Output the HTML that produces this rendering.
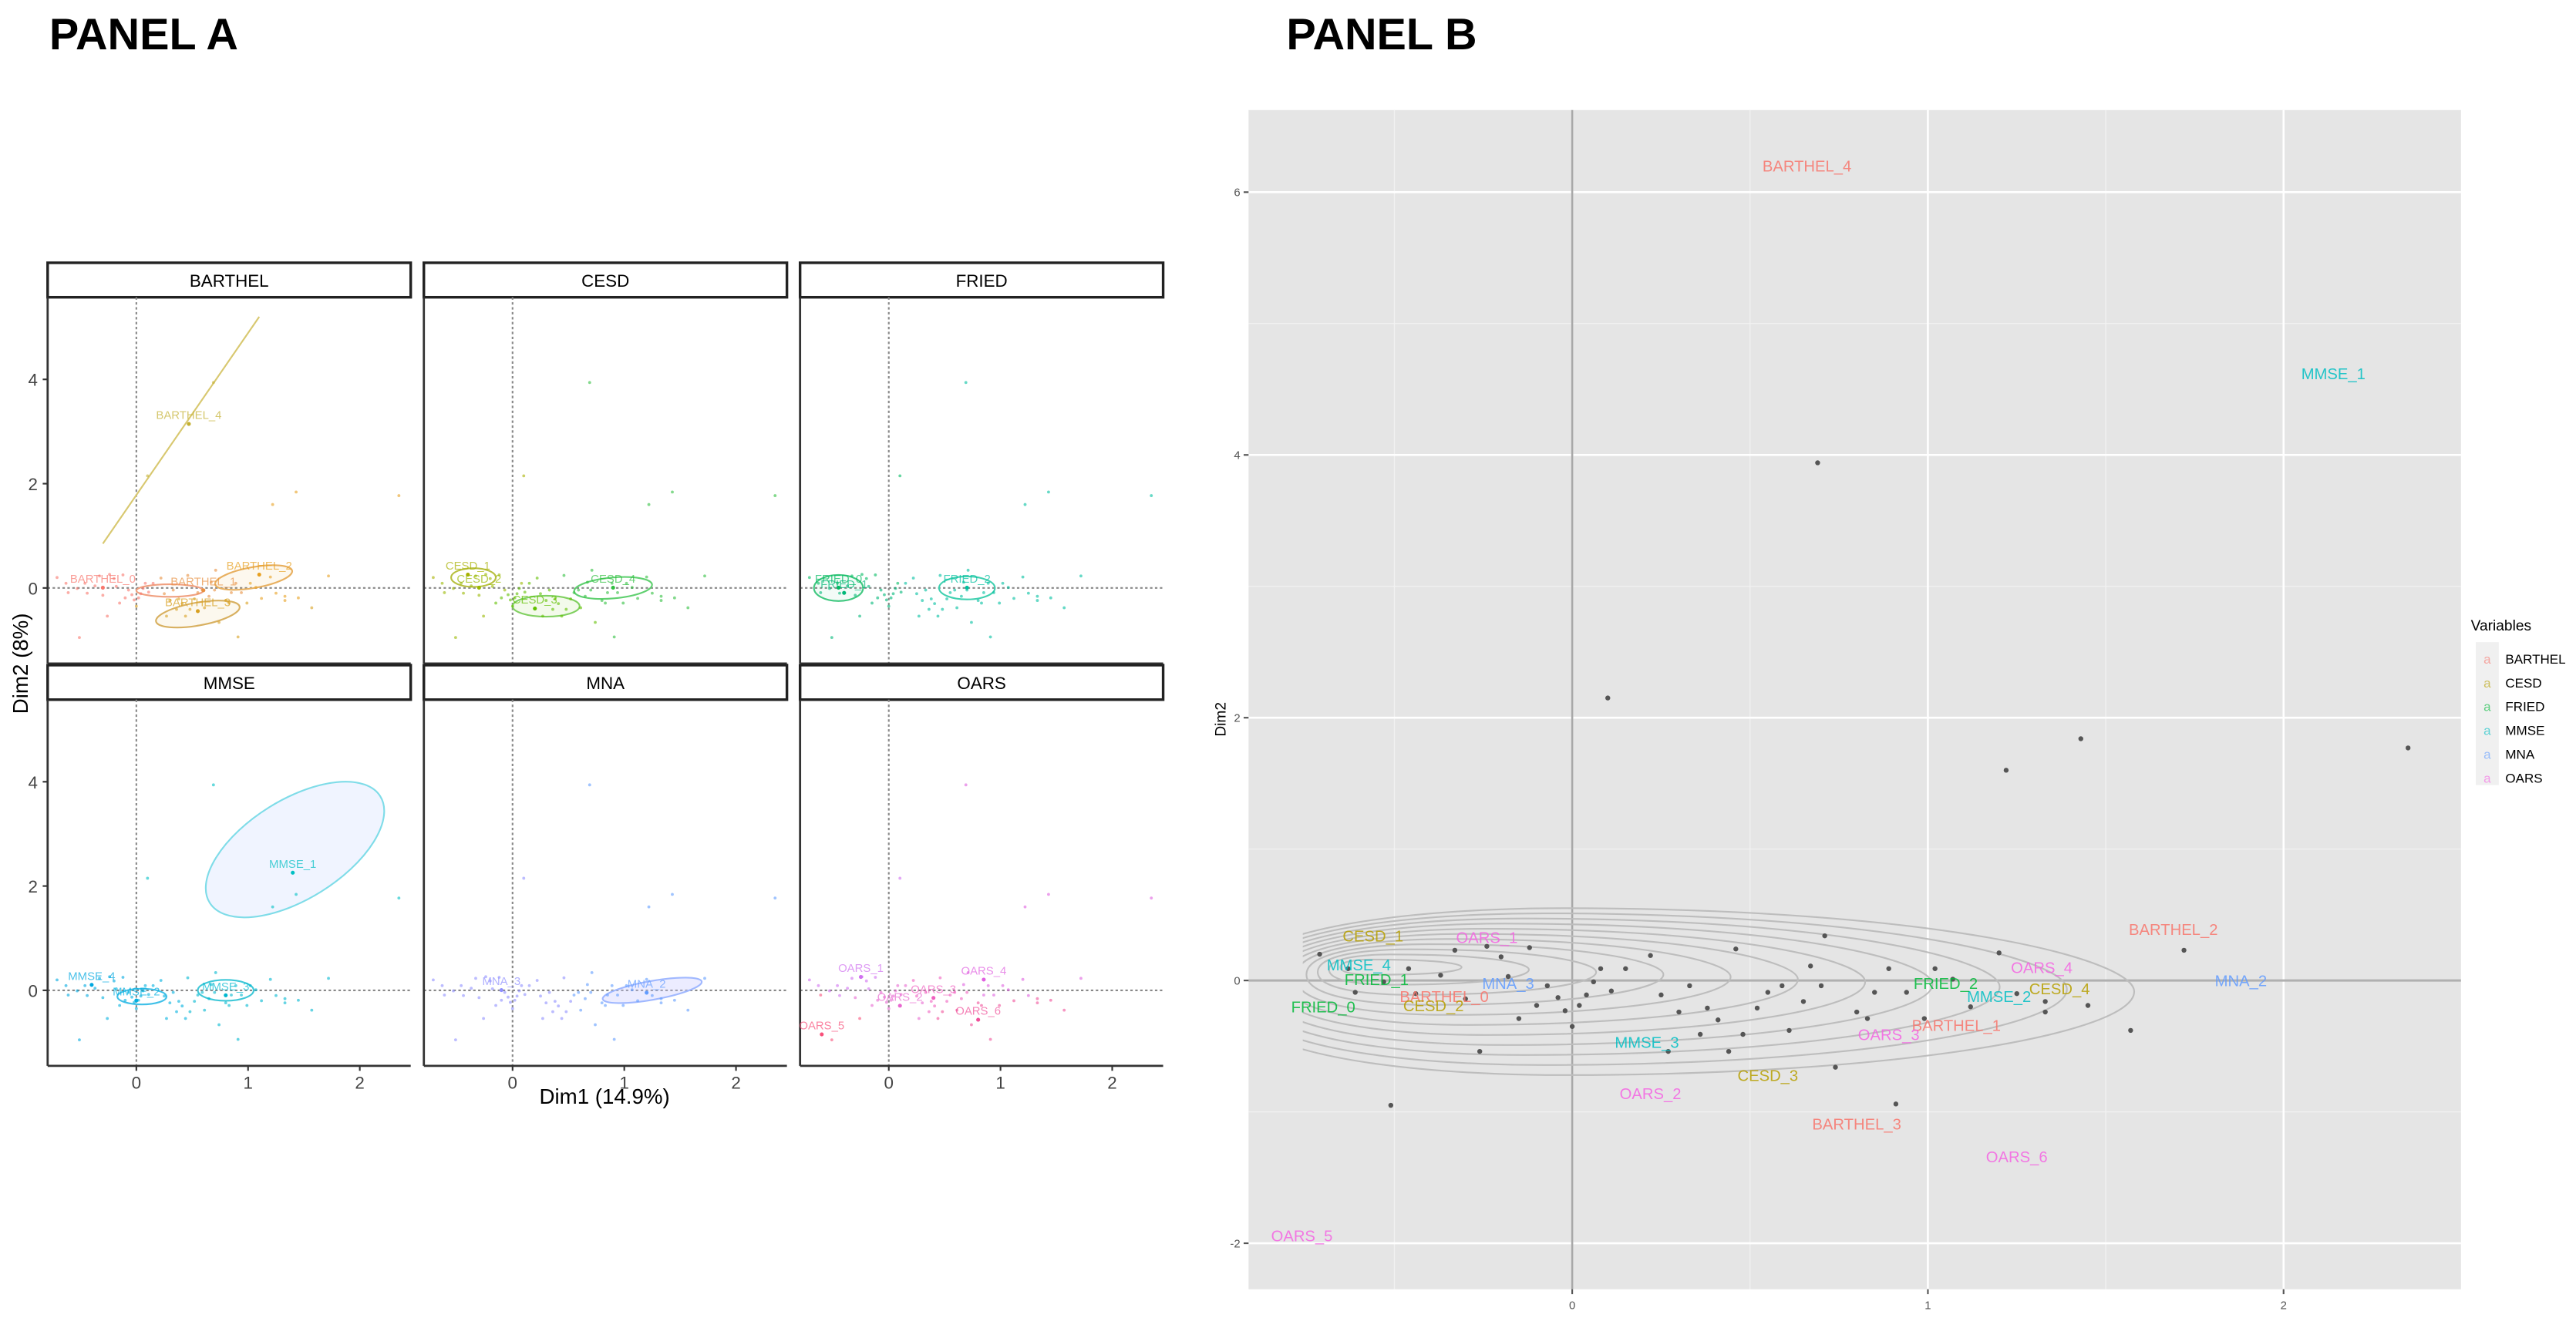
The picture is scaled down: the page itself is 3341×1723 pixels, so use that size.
<!DOCTYPE html>
<html><head><meta charset="utf-8">
<style>
html,body{margin:0;padding:0;background:#fff;}
svg{display:block;font-family:"Liberation Sans",sans-serif;}
</style></head>
<body>
<svg id="fig" width="3341" height="1723" viewBox="0 0 1568 808.6" preserveAspectRatio="none" xmlns="http://www.w3.org/2000/svg">
<defs><clipPath id="cl"><rect x="793" y="60" width="710" height="730"/></clipPath></defs>
<text x="30" y="30" font-size="27" font-weight="bold">PANEL A</text>
<text x="783" y="30" font-size="27" font-weight="bold">PANEL B</text>
<g id="pa"></g>
<g id="pb"></g>
</svg>
<script>
// Individuals (shared data)
const indX = [-0.71,-0.63,-0.61,-0.53,-0.46,-0.44,-0.37,-0.33,-0.30,-0.26,-0.24,-0.20,-0.18,-0.15,-0.12,-0.10,-0.07,-0.04,-0.02,0.00,0.02,0.04,0.06,0.08,0.11,0.15,0.22,0.25,0.27,0.30,0.33,0.36,0.38,0.41,0.44,0.46,0.48,0.52,0.55,0.59,0.61,0.65,0.67,0.71,0.70,0.74,0.80,0.83,0.85,0.89,0.94,0.99,1.02,1.07,1.12,1.20,1.25,1.33,1.33,1.45,1.57,1.72,0.91,-0.51,0.69,0.10,1.22,1.43,2.35];
const indY = [0.20,0.09,-0.09,-0.01,0.09,-0.10,0.04,0.23,-0.14,-0.54,0.26,0.18,0.03,-0.29,0.25,-0.19,-0.04,-0.13,-0.23,-0.35,-0.19,-0.11,-0.01,0.09,-0.08,0.09,0.19,-0.11,-0.54,-0.24,-0.04,-0.41,-0.21,-0.30,-0.54,0.24,-0.41,-0.21,-0.09,-0.04,-0.38,-0.16,0.11,0.34,-0.04,-0.66,-0.24,-0.29,-0.09,0.09,-0.09,-0.29,0.09,0.01,-0.20,0.21,-0.10,-0.16,-0.24,-0.19,-0.38,0.23,-0.94,-0.95,3.94,2.15,1.60,1.84,1.77];
// Category coordinates (panel B)
const catNames = ["BARTHEL_4","MMSE_1","BARTHEL_2","OARS_4","MNA_2","CESD_4","MMSE_2","FRIED_2","BARTHEL_1","OARS_3","CESD_3","BARTHEL_3","OARS_6","MMSE_3","OARS_2","OARS_1","MNA_3","BARTHEL_0","CESD_2","CESD_1","MMSE_4","FRIED_1","FRIED_0","OARS_5"];
const catX = [0.66,2.14,1.69,1.32,1.88,1.37,1.20,1.05,1.08,0.89,0.55,0.80,1.25,0.21,0.22,-0.24,-0.18,-0.36,-0.39,-0.56,-0.60,-0.55,-0.70,-0.76];
const catY = [6.20,4.62,0.39,0.10,0.00,-0.06,-0.12,-0.02,-0.34,-0.41,-0.72,-1.09,-1.34,-0.47,-0.86,0.33,-0.02,-0.12,-0.19,0.34,0.12,0.01,-0.20,-1.94];
const varNames = ["BARTHEL","CESD","FRIED","MMSE","MNA","OARS"];
const varColors = ["#F8766D","#B79F00","#00BA38","#00BFC4","#619CFF","#F564E3"];
const xTicks = [0,1,2];
const yTicksA = [0,2,4];
const yTicksB = [-2,0,2,4,6];
// Panel A facet annotations
const facetLabels = [
 [["BARTHEL_4",0.47,3.24,"#C4B030"],["BARTHEL_2",1.1,0.35,"#E8A020"],["BARTHEL_1",0.6,0.05,"#E89040"],["BARTHEL_3",0.55,-0.35,"#D8A020"],["BARTHEL_0",-0.3,0.1,"#F8766D"]],
 [["CESD_1",-0.4,0.35,"#A8B000"],["CESD_2",-0.3,0.1,"#9AB800"],["CESD_3",0.2,-0.3,"#60C000"],["CESD_4",0.9,0.1,"#30C040"]],
 [["FRIED_0",-0.45,0.1,"#00BA60"],["FRIED_1",-0.4,0.0,"#00B878"],["FRIED_2",0.7,0.1,"#00C0A0"]],
 [["MMSE_1",1.4,2.35,"#00BFC4"],["MMSE_4",-0.4,0.2,"#00A8E0"],["MMSE_2",0.0,-0.1,"#00B0E0"],["MMSE_3",0.8,0.0,"#00B8D0"]],
 [["MNA_3",-0.1,0.1,"#9090FF"],["MNA_2",1.2,0.05,"#619CFF"]],
 [["OARS_1",-0.25,0.35,"#D070F0"],["OARS_4",0.85,0.3,"#E060E0"],["OARS_2",0.1,-0.2,"#E868D0"],["OARS_3",0.4,-0.05,"#F060C0"],["OARS_6",0.8,-0.47,"#F0509A"],["OARS_5",-0.6,-0.75,"#F8507A"]]
];
// ellipses: cx, cy, rx, ry, angle(deg), color, fill
const facetEllipses = [
 [[1.05,0.2,0.35,0.2,-10,"#E8B060","rgba(232,160,32,0.08)"],[0.55,-0.5,0.38,0.22,-10,"#D8B060","rgba(216,160,32,0.08)"],[0.3,-0.05,0.3,0.12,0,"#F0A080","none"]],
 [[-0.35,0.2,0.2,0.18,0,"#B8C040","none"],[0.3,-0.35,0.3,0.2,0,"#80D060","rgba(96,192,0,0.08)"],[0.9,0.0,0.35,0.2,-5,"#60D070","none"]],
 [[-0.45,0.0,0.22,0.25,0,"#40C880","rgba(0,186,96,0.05)"],[0.7,0.0,0.25,0.22,0,"#40D0B0","none"]],
 [[1.42,2.7,0.9,0.95,-32,"#7FDCE8","rgba(180,200,255,0.2)"],[0.05,-0.12,0.22,0.15,0,"#40C0E8","none"],[0.8,0.0,0.25,0.2,0,"#40C8D8","none"]],
 [[1.25,0.0,0.45,0.18,-10,"#A0B8FF","rgba(200,200,255,0.35)"]],
 []
];
const NS="http://www.w3.org/2000/svg";
function mk(parent,tag,attrs){const e=document.createElementNS(NS,tag);for(const k in attrs)e.setAttribute(k,attrs[k]);parent.appendChild(e);return e;}

// ---------- Panel A ----------
const pa=document.getElementById('pa');
const FW=221,FH=223;
function ax(col,v){return 29+229*col+54+v*68;}
function ay(row,v){return 181+245*row+177-v*31.75;}
for(let f=0;f<6;f++){
  const col=f%3,row=Math.floor(f/3);
  const x0=29+229*col, top=181+245*row;
  const g=mk(pa,'g',{});
  
  
  const strip=mk(g,'rect',{x:x0,y:top-21,width:FW,height:21,fill:'#fff',stroke:'#222','stroke-width':1.6});
  
  
  const st=mk(g,'text',{x:x0+FW/2,y:top-6.5,'text-anchor':'middle','font-size':10.5});
  st.textContent=varNames[f];
  
  
  mk(g,'line',{x1:ax(col,0),x2:ax(col,0),y1:top,y2:top+FH,stroke:'#888','stroke-width':1,'stroke-dasharray':'1.5,1.5'});
  mk(g,'line',{x1:x0,x2:x0+FW,y1:ay(row,0),y2:ay(row,0),stroke:'#888','stroke-width':1,'stroke-dasharray':'1.5,1.5'});
  mk(g,'line',{x1:x0,x2:x0,y1:top,y2:top+FH,stroke:'#333','stroke-width':1.3});
  mk(g,'line',{x1:x0,x2:x0+FW,y1:top+FH,y2:top+FH,stroke:'#333','stroke-width':1.3});
  if(f===0){mk(g,'line',{x1:ax(0,-0.3),y1:ay(0,0.85),x2:ax(0,1.1),y2:ay(0,5.2),stroke:'#D8C870','stroke-width':1});}
  facetEllipses[f].forEach(e=>{
    const el=mk(g,'ellipse',{cx:ax(col,e[0]),cy:ay(row,e[1]),rx:e[2]*68,ry:e[3]*31.75,fill:e[6],stroke:e[5],'stroke-width':1,transform:`rotate(${e[4]} ${ax(col,e[0])} ${ay(row,e[1])})`});
    
    
  });
  const labs=facetLabels[f];
  for(let i=0;i<indX.length;i++){
    let best=0,bd=1e9;
    labs.forEach((l,k)=>{const d=Math.abs(l[1]-indX[i])+Math.abs(l[2]-indY[i]);if(d<bd){bd=d;best=k;}});
    const c=mk(g,'circle',{cx:ax(col,indX[i]),cy:ay(row,indY[i]),r:0.9,fill:labs[best][3],opacity:0.6});
    
    
  }
  labs.forEach(l=>{
    mk(g,'circle',{cx:ax(col,l[1]),cy:ay(row,l[2])+3,r:1.2,fill:l[3]});
    const t=mk(g,'text',{x:ax(col,l[1]),y:ay(row,l[2]),'text-anchor':'middle','font-size':7,fill:l[3],opacity:0.7});
    t.textContent=l[0];
    
    
  });
  if(col===0){yTicksA.forEach(v=>{
    mk(g,'line',{x1:x0-3,x2:x0,y1:ay(row,v),y2:ay(row,v),stroke:'#333'});
    const t=mk(g,'text',{x:x0-6,y:ay(row,v)+4,'text-anchor':'end','font-size':10.5,fill:'#444'});
    t.textContent=v;
    
    
  });}
  if(row===1){xTicks.forEach(v=>{
    mk(g,'line',{x1:ax(col,v),x2:ax(col,v),y1:top+FH,y2:top+FH+3,stroke:'#333'});
    const t=mk(g,'text',{x:ax(col,v),y:top+FH+14,'text-anchor':'middle','font-size':10.5,fill:'#444'});
    t.textContent=v;
    
    
  });}
}
{const t=mk(pa,'text',{x:368,y:672,'text-anchor':'middle','font-size':13});t.textContent='Dim1 (14.9%)';


const t2=mk(pa,'text',{x:0,y:0,'text-anchor':'middle','font-size':13,transform:'translate(17,404) rotate(-90)'});t2.textContent='Dim2 (8%)';

}

// ---------- Panel B ----------
const pb=document.getElementById('pb');
const BL=760,BR=1498,BT=67,BB=785;
function bx(v){return 957+v*216.5;}
function by(v){return 597-v*80;}
const bg=mk(pb,'rect',{x:BL,y:BT,width:BR-BL,height:BB-BT,fill:'#E5E5E5'});


[-0.5,0.5,1.5].forEach(v=>mk(pb,'line',{x1:bx(v),x2:bx(v),y1:BT,y2:BB,stroke:'#F2F2F2','stroke-width':0.6}));
[-1,1,3,5].forEach(v=>mk(pb,'line',{x1:BL,x2:BR,y1:by(v),y2:by(v),stroke:'#F2F2F2','stroke-width':0.6}));
xTicks.forEach(v=>mk(pb,'line',{x1:bx(v),x2:bx(v),y1:BT,y2:BB,stroke:'#fff','stroke-width':1.2}));
yTicksB.forEach(v=>mk(pb,'line',{x1:BL,x2:BR,y1:by(v),y2:by(v),stroke:'#fff','stroke-width':1.2}));
mk(pb,'line',{x1:bx(0),x2:bx(0),y1:BT,y2:BB,stroke:'#A8A8A8','stroke-width':1.2});
mk(pb,'line',{x1:BL,x2:BR,y1:by(0),y2:by(0),stroke:'#B0B0B0','stroke-width':1.4});
// density contours (decorative, egg-shaped nested rings)
const cg=mk(pb,'g',{'clip-path':'url(#cl)'});
for(let k=0;k<11;k++){
  const s=1-k/11;
  const cy0=0.12;
  const L=bx(-0.62-0.35*s), R=bx(-0.5+2.08*s);
  const T=by(cy0+0.43*s), B=by(cy0-0.84*s);
  const M=(T+B)/2, P=bx(-0.62+0.5*s);
  const d=`M${L},${M} C${L},${T} ${P},${T} ${P+20*s},${T} C${R-120*s},${T} ${R},${M-20*s} ${R},${M} C${R},${M+25*s} ${R-140*s},${B} ${P+20*s},${B} C${P},${B} ${L},${B} ${L},${M} Z`;
  const p=mk(cg,'path',{d:d,fill:'none',stroke:'#BDBDBD','stroke-width':1});
  
  
}
for(let i=0;i<indX.length;i++){
  const c=mk(pb,'circle',{cx:bx(indX[i]),cy:by(indY[i]),r:1.5,fill:'#555'});
  
  
}
catNames.forEach((n,i)=>{
  const vi=varNames.indexOf(n.split('_')[0]);
  const t=mk(pb,'text',{x:bx(catX[i]),y:by(catY[i])+3.5,'text-anchor':'middle','font-size':9.5,fill:varColors[vi],opacity:0.85});
  t.textContent=n;
  
  
});
xTicks.forEach(v=>{
  mk(pb,'line',{x1:bx(v),x2:bx(v),y1:BB,y2:BB+3,stroke:'#555'});
  const t=mk(pb,'text',{x:bx(v),y:BB+12,'text-anchor':'middle','font-size':7,fill:'#555'});t.textContent=v;
  
  
});
yTicksB.forEach(v=>{
  mk(pb,'line',{x1:BL-3,x2:BL,y1:by(v),y2:by(v),stroke:'#555'});
  const t=mk(pb,'text',{x:BL-5,y:by(v)+2.5,'text-anchor':'end','font-size':7,fill:'#555'});t.textContent=v;
  
  
});
{const t=mk(pb,'text',{x:bx(0),y:832,'text-anchor':'middle','font-size':9});t.textContent='Dim1';


const t2=mk(pb,'text',{x:0,y:0,'text-anchor':'middle','font-size':9,transform:'translate(746,438) rotate(-90)'});t2.textContent='Dim2';

}
// legend
const lg=mk(pb,'g',{});


{const t=mk(lg,'text',{x:1504,y:384,'font-size':9});t.textContent='Variables';

}
mk(lg,'rect',{x:1507,y:391,width:14,height:87,fill:'#F0F0F0'});
varNames.forEach((n,i)=>{
  const y=401+i*14.5;
  const k=mk(lg,'text',{x:1514,y:y+3,'text-anchor':'middle','font-size':8,fill:varColors[i],opacity:0.6});k.textContent='a';
  
  
  const t=mk(lg,'text',{x:1525,y:y+3,'font-size':8});t.textContent=n;
  
  
});
</script>
</body></html>
